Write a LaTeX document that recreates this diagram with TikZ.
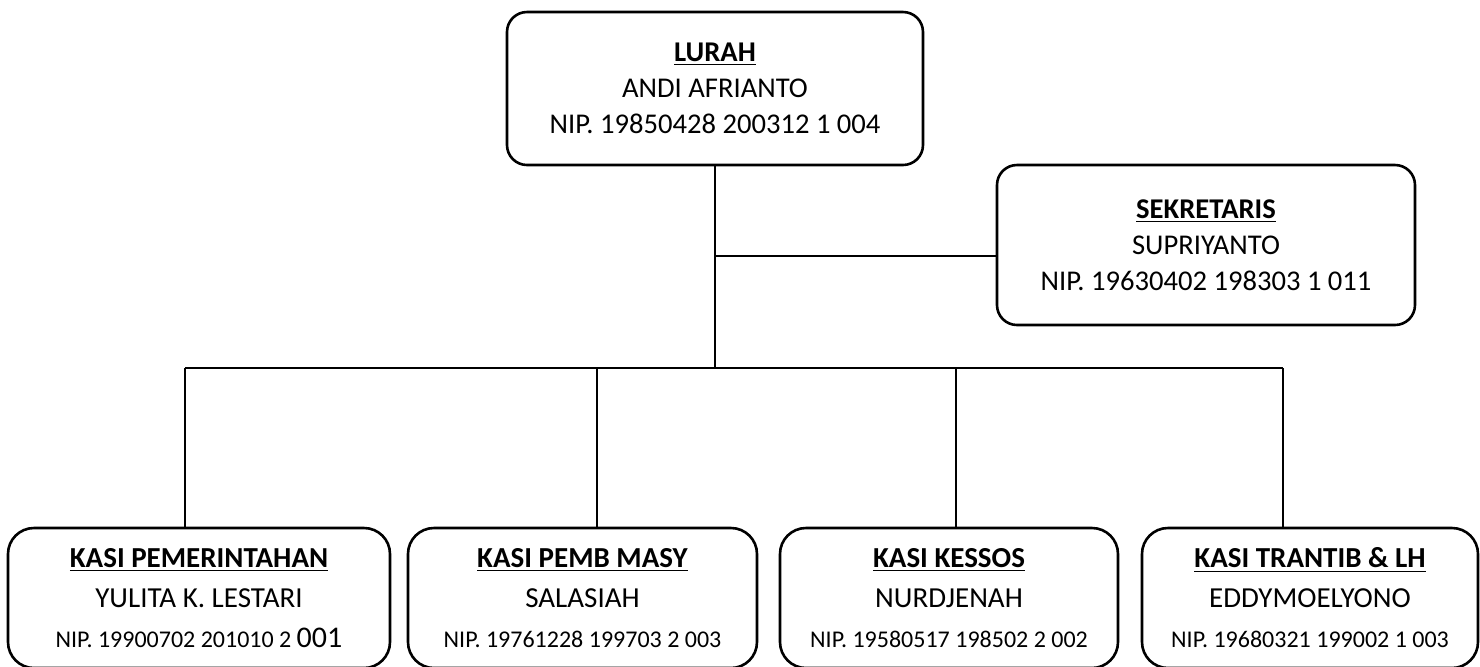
\documentclass[tikz,border=0pt]{standalone}
\usepackage{fontspec}
\setmainfont{Carlito}
\tikzset{jabatan/.style={draw=black, line width=1.3pt, rounded corners=10pt, align=center, inner sep=0pt, font=\fontsize{14.3}{18}\selectfont},
  kasi/.style={jabatan, rounded corners=13pt, minimum height=70pt, font=\fontsize{14.5}{20}\selectfont},
  garis/.style={line width=1.3pt}}
\newcommand{\judul}[1]{\underline{\textbf{#1}}}
\newcommand{\nipkecil}[1]{{\fontsize{12}{20}\selectfont #1}}

\begin{document}
\begin{tikzpicture}[x=0.5pt,y=-0.5pt]
  \path[use as bounding box, clip](0,0) rectangle (1480,666);
  % atas
  \node[jabatan, minimum width=208pt, minimum height=76.5pt](lurah)at(715,88.5){\judul{LURAH}\\ANDI AFRIANTO\\NIP. 19850428 200312 1 004};
  \node[jabatan, minimum width=209pt, minimum height=80pt](sekretaris)at(1206,245){\judul{SEKRETARIS}\\SUPRIYANTO\\NIP. 19630402 198303 1 011};
  % kasi
  \node[kasi, minimum width=191pt](kasi1)at(199,598){\judul{KASI PEMERINTAHAN}\\YULITA K. LESTARI\\\nipkecil{NIP. 19900702 201010 2 {\fontsize{15}{20}\selectfont 001}}};
  \node[kasi, minimum width=174.5pt](kasi2)at(582.5,598){\judul{KASI PEMB MASY}\\SALASIAH\\\nipkecil{NIP. 19761228 199703 2 003}};
  \node[kasi, minimum width=169pt](kasi3)at(949,598){\judul{KASI KESSOS}\\NURDJENAH\\\nipkecil{NIP. 19580517 198502 2 002}};
  \node[kasi, minimum width=168pt](kasi4)at(1310,598){\judul{KASI TRANTIB \& LH}\\EDDYMOELYONO\\\nipkecil{NIP. 19680321 199002 1 003}};
  % garis
  \coordinate(cabang)at(715,256);
  \coordinate(hub)at(715,368);
  \coordinate(bus1)at(185,368);
  \coordinate(bus2)at(597,368);
  \coordinate(bus3)at(956,368);
  \coordinate(bus4)at(1283,368);
  \draw[garis](lurah.south)--(hub);
  \draw[garis](cabang)--(cabang-|sekretaris.west);
  \draw[garis](bus1)--(bus4);
  \foreach \i in {1,...,4}
    \draw[garis](bus\i)--(bus\i|-kasi\i.north);
\end{tikzpicture}
\end{document}
